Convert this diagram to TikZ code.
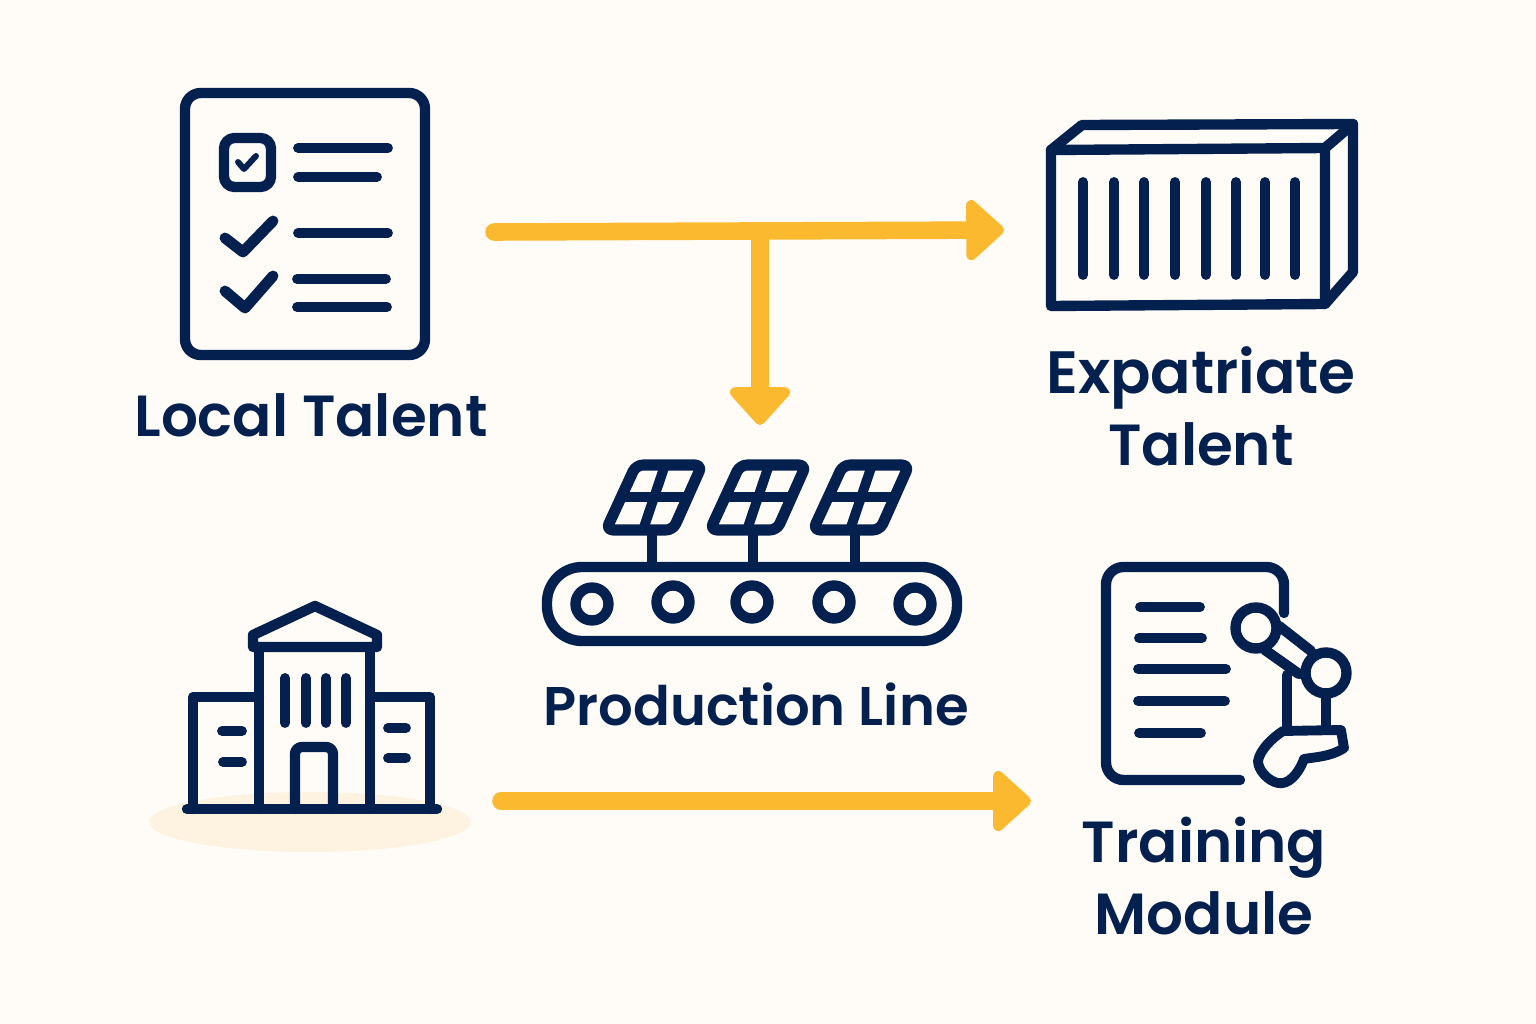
\documentclass[tikz,border=0pt]{standalone}
\usepackage{fontspec}
\usepackage{tikz}
\usetikzlibrary{arrows.meta}
\setmainfont{Poppins}[UprightFont={* Medium},BoldFont={* SemiBold}]
\definecolor{navy}{HTML}{04204F}
\definecolor{amber}{HTML}{FBB92F}
\definecolor{paper}{HTML}{FFFCF8}
\definecolor{sand}{HTML}{FDF3E0}
\begin{document}
\begin{tikzpicture}[x=0.02cm,y=-0.02cm,>={Triangle[length=23pt,width=40pt,round]},
ink/.style={draw=navy,line width=5.9pt,line cap=round,line join=round},
stripe/.style={ink,line width=5.6pt},
flow/.style={draw=amber,fill=amber,line width=10pt,line cap=round},
lab/.style={text=navy,font=\fontsize{33}{41}\selectfont\bfseries,align=center}]
\useasboundingbox (0,0) rectangle (1536,1024);
\fill[paper] (0,0) rectangle (1536,1024);
\fill[sand] (310,822) ellipse (161 and 30);
\draw[ink,rounded corners=9pt] (185,93) rectangle (425,355);
\draw[ink,rounded corners=6pt] (224,138) rectangle (271,187);
\draw[ink,line width=3.4pt] (238,162) -- (244,169) -- (256,156);
\foreach \a/\b/\c/\d in {298/148/388/148,298/177/377/177,298/233/388/233,297/279/386/279,297/307/387/307}{\draw[stripe] (\a,\b) -- (\c,\d);};
\draw[stripe,line width=6.2pt] (225,238) -- (243,252) -- (273,221);
\draw[stripe,line width=6.2pt] (225,291) -- (245,308) -- (273,276);
\node[lab] (localtalent) at (311,415) {Local Talent};
\draw[ink] (1051,150) -- (1082,125) -- (1353,124) -- (1353,272) -- (1325,304) -- (1051,306) -- cycle;
\draw[ink] (1051,150) -- (1325,148) -- (1325,304);
\draw[ink] (1325,148) -- (1353,124);
\foreach \i in {1083,1114,1144,1175,1206,1236,1265,1295}{\draw[stripe] (\i,182) -- (\i,275);};
\node[lab,font=\fontsize{34}{41}\selectfont\bfseries] (expatriate) at (1201,406) {Expatriate\\\fontsize{33}{41}\selectfont Talent};
\foreach \dx/\sx in {0/652,104/753,207/855}{
\draw[ink,line width=6.3pt,rounded corners=4pt] (636+\dx,465) -- (702+\dx,465) -- (673+\dx,530) -- (606+\dx,530) -- cycle;
\draw[stripe] (665+\dx,465) -- (643+\dx,530);
\draw[stripe] (621+\dx,497) -- (688+\dx,497);
\draw[stripe] (\sx,530) -- (\sx,567);};
\draw[ink,rounded corners=20pt] (547,567) rectangle (957,641);
\foreach \a/\b in {592/604,673/602,752/602,834/602,915/604}{\draw[ink] (\a,\b) circle (16.5);};
\node[lab,font=\fontsize{31}{41}\selectfont\bfseries] (productionline) at (756,704) {Production Line};
\draw[ink] (193,809) -- (193,697) -- (259,697);
\draw[ink] (430,809) -- (430,697) -- (370,697);
\draw[ink] (259,809) -- (259,647);
\draw[ink] (370,809) -- (370,647);
\draw[ink] (253,647) -- (253,635) -- (315,606) -- (377,635) -- (377,647) -- cycle;
\foreach \i in {285,306,326,346}{\draw[stripe] (\i,678) -- (\i,723);};
\draw[ink,rounded corners=4pt] (295,809) -- (295,747) -- (333,747) -- (333,809);
\draw[stripe] (222,731) -- (242,731);
\draw[stripe] (223,762) -- (242,762);
\draw[stripe] (388,728) -- (406,728);
\draw[stripe] (388,758) -- (406,758);
\draw[ink] (187,809) -- (437,809);
\draw[ink,rounded corners=10pt] (1240,780) -- (1106,780) -- (1106,567) -- (1284,567) -- (1284,613);
\foreach \a/\b/\c in {607/1140/1200,638/1139/1202,669/1138/1226,701/1138/1225,733/1139/1201}{\draw[stripe] (\b,\a) -- (\c,\a);};
\draw[ink] (1256,628) circle (20.5);
\draw[ink] (1326,673) circle (20.5);
\draw[ink] (1279,626) -- (1311,651);
\draw[ink] (1265,650) -- (1299,674);
\draw[ink] (1287,675) -- (1287,728);
\draw[ink] (1326,693) -- (1326,728);
\draw[ink,line width=5.6pt] (1283,731) -- (1341,730) -- (1344,748) .. controls (1330,757) and (1315,757) .. (1304,759) .. controls (1298,775) and (1288,785) .. (1278,783) .. controls (1268,781) and (1258,770) .. (1258,761) .. controls (1260,750) and (1272,738) .. (1283,731) -- cycle;
\node[lab] (trainingmodule) at (1204,876) {Training\\Module};
\coordinate (a1) at (494,232);
\coordinate (a2) at (1004,230);
\coordinate (b1) at (760,232);
\coordinate (b2) at (760,425);
\coordinate (c1) at (501,801);
\coordinate (c2) at (1031,801);
\draw[flow,->] (a1) -- (a2);
\draw[flow,->] (b1) -- (b2);
\draw[flow,->] (c1) -- (c2);
\end{tikzpicture}
\end{document}
